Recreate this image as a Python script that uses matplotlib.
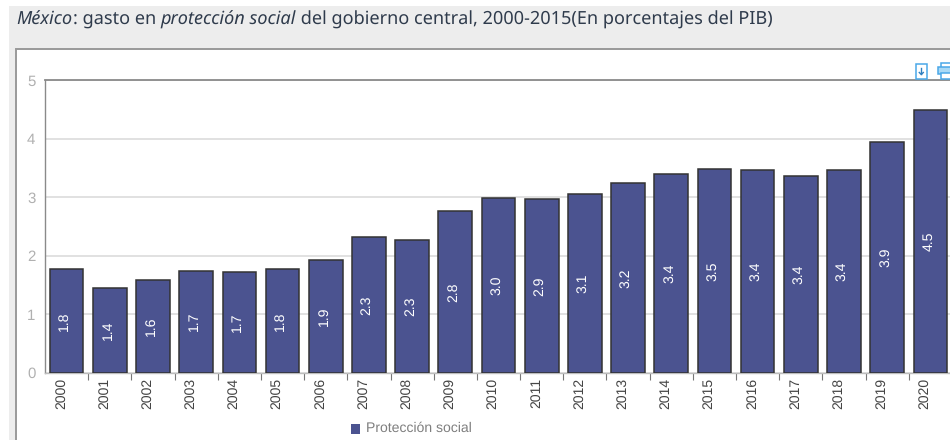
import matplotlib
matplotlib.use('Agg')
import matplotlib.pyplot as plt
from matplotlib.patches import Rectangle

years = [str(y) for y in range(2000, 2021)]
values = [1.77, 1.45, 1.58, 1.74, 1.72, 1.77, 1.93, 2.32, 2.27, 2.76, 2.98,
          2.96, 3.05, 3.24, 3.39, 3.48, 3.46, 3.36, 3.46, 3.94, 4.49]
labels = ['1.8', '1.4', '1.6', '1.7', '1.7', '1.8', '1.9', '2.3', '2.3', '2.8', '3.0',
          '2.9', '3.1', '3.2', '3.4', '3.5', '3.4', '3.4', '3.4', '3.9', '4.5']
y_ticks = [0, 1, 2, 3, 4, 5]

W, H = 950, 440
plt.rcParams['font.family'] = ['Liberation Sans', 'DejaVu Sans']
plt.rcParams['text.hinting'] = 'no_hinting'
plt.rcParams['text.hinting_factor'] = 1

fig = plt.figure(figsize=(W / 100, H / 100), dpi=100)
fig.patch.set_facecolor('white')


# pixel position (from top left) to figure coords
def fx(x):
    return x / W


def fy(y):
    return 1 - y / H


def box(x0, y0, x1, y1, z=5, **kw):
    fig.add_artist(Rectangle((fx(x0), fy(y1)), (x1 - x0) / W, (y1 - y0) / H,
                             transform=fig.transFigure, zorder=z, **kw))


def pline(xs, ys, **kw):
    fig.add_artist(plt.Line2D([fx(v) for v in xs], [fy(v) for v in ys], zorder=6, **kw))


# grey panel and white inner box, behind the axes
box(9, 6, W, H, z=-2, facecolor='#ededed', edgecolor='none')
box(16, 49, W + 5, H + 5, z=-1, facecolor='white', edgecolor='#999999', linewidth=1.4)

# axes run past the right edge of the picture, as in the reference
ax = fig.add_axes([fx(45), fy(372.7), 907 / W, 292.7 / H])
ax.set_facecolor('white')
x = list(range(len(years)))
ax.bar(x, values, width=0.78, color='#4b5390', edgecolor='#333333', linewidth=1.1, zorder=3)
for i in x:
    ax.annotate(labels[i], (i, values[i] / 2), xytext=(-1.4, 0), textcoords='offset points',
                rotation=90, ha='center', va='center', color='white', fontsize=10, zorder=4)

ax.set_xlim(-0.5, len(years) - 0.5)
ax.set_ylim(0, 5)
ax.set_yticks(y_ticks)
ax.grid(axis='y', color='#d9d9d9', linewidth=1.1, zorder=0)
ax.tick_params(axis='y', length=0, pad=7, labelsize=10.5, labelcolor='#b0b0b0')
ax.set_xticks([i - 0.5 for i in x[1:]] + [len(years) - 0.5])
ax.set_xticklabels([])
ax.tick_params(axis='x', length=5, width=0.8, color='#777777')
for i in x:
    ax.annotate(years[i], (i, 0), xycoords=('data', 'axes fraction'), xytext=(-4, -4),
                textcoords='offset points', rotation=90, ha='center', va='top',
                fontsize=10, color='#444444')
ax.spines['top'].set_color('#8a8a8a')
ax.spines['top'].set_linewidth(1.3)
ax.spines['left'].set_color('#8a8a8a')
ax.spines['left'].set_linewidth(1.0)
ax.spines['bottom'].set_color('#bdbdbd')
ax.spines['bottom'].set_linewidth(1.0)
ax.spines['right'].set_visible(False)

# legend
box(351, 424, 360, 434, facecolor='#4b5390', edgecolor='none')
fig.text(fx(366), fy(428), 'Protección social', fontsize=9.9, color='#7f7f7f', va='center')

# title, pieces in roman and italic
title_parts = [('México', 'italic'), (': gasto en ', 'normal'), ('protección social', 'italic'),
               (' del gobierno central, 2000-2015(En porcentajes del PIB)', 'normal')]
renderer = fig.canvas.get_renderer()
tx = 16.5
for part, style in title_parts:
    t = fig.text(fx(tx), fy(25), part, fontsize=13.05, style=style, family='Noto Sans', color='#2f3b4c')
    tx += t.get_window_extent(renderer).width

# small icons top right
icon = '#4aa8e8'
box(916, 64, 926.5, 78.5, facecolor='white', edgecolor=icon, linewidth=1.1)
pline([921.3, 921.3], [68, 74.5], color='#2f7fbf', linewidth=1)
pline([919.3, 921.3, 923.3], [72.5, 74.5, 72.5], color='#2f7fbf', linewidth=1)
box(941, 63.5, 955, 68, facecolor='white', edgecolor=icon, linewidth=1.1)
box(937.5, 67.5, 955, 74.5, facecolor='#a9d9f5', edgecolor=icon, linewidth=1.1)
box(941, 73, 955, 79, facecolor='white', edgecolor=icon, linewidth=1.1)

fig.savefig('out.png', dpi=100)
